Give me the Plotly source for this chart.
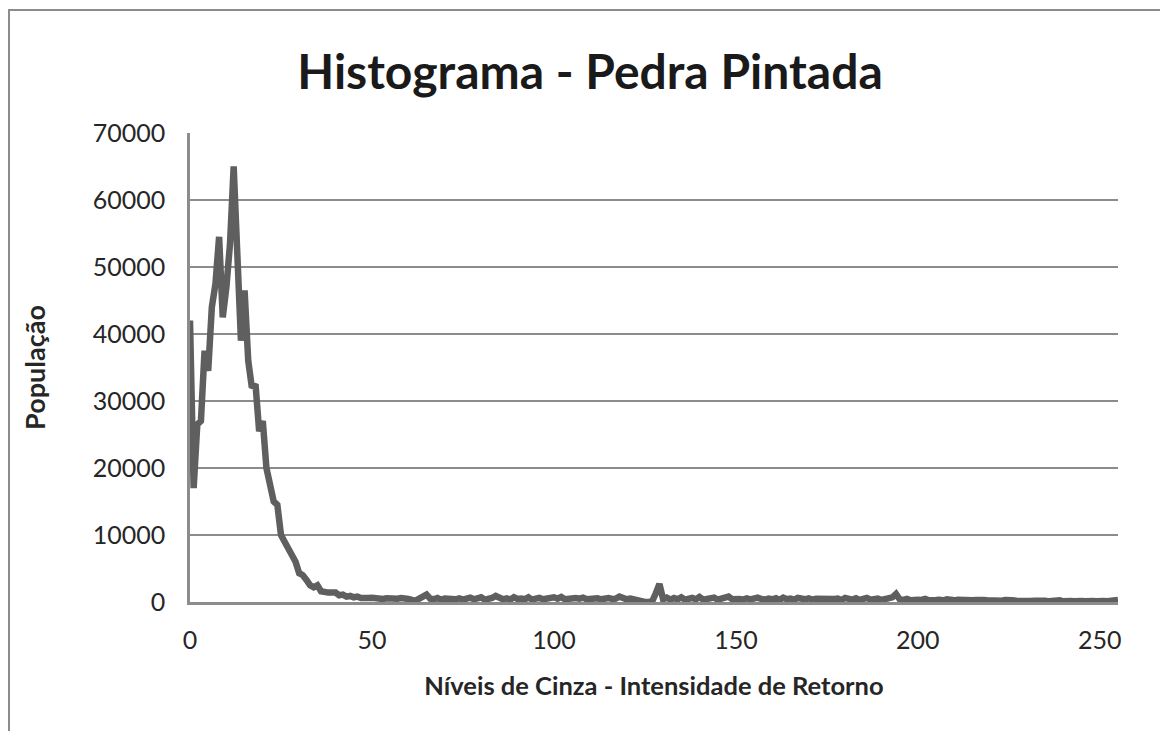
import plotly.graph_objects as go

levels = list(range(256))
population = [
    42000, 17000, 26500, 27000, 37500, 34500, 44000, 47500, 54500, 42500,
    47000, 53500, 65000, 50000, 39000, 46500, 36000, 32000, 32500, 25500,
    27000, 20000, 17500, 15000, 14500, 10000, 9000, 8000, 6500, 6000,
    4300, 4000, 3300, 2500, 2200, 2500, 1600, 1400, 1400, 1400,
    1400, 1000, 1100, 800, 900, 700, 800, 600, 700, 600,
    650, 500, 600, 450, 550, 500, 400, 500, 600, 400,
    450, 300, 200, 500, 900, 1100, 500, 400, 600, 350,
    500, 450, 600, 400, 550, 350, 500, 650, 400, 500,
    700, 350, 450, 600, 900, 500, 400, 550, 350, 700,
    450, 500, 400, 700, 350, 500, 600, 400, 550, 450,
    700, 500, 750, 400, 550, 450, 600, 500, 650, 400,
    500, 450, 550, 400, 500, 600, 450, 500, 800, 500,
    400, 500, 350, 200, 50, 0, 0, 100, 1300, 2700,
    400, 650, 350, 600, 400, 700, 350, 500, 600, 400,
    750, 350, 500, 400, 650, 350, 450, 500, 800, 400,
    500, 450, 350, 550, 400, 500, 650, 450, 350, 500,
    400, 550, 300, 650, 400, 500, 350, 600, 450, 400,
    550, 350, 500, 450, 400, 550, 350, 450, 500, 300,
    600, 400, 350, 550, 300, 450, 600, 350, 400, 500,
    300, 450, 500, 700, 1200, 400, 300, 450, 250, 400,
    350, 300, 450, 250, 400, 300, 350, 250, 400, 300,
    250, 350, 300, 200, 350, 250, 300, 200, 300, 250,
    200, 300, 250, 200, 300, 150, 250, 200, 150, 250,
    200, 150, 200, 250, 150, 200, 100, 200, 150, 250,
    100, 200, 150, 100, 200, 150, 100, 200, 150, 100,
    200, 150, 100, 150, 200, 300,
]

title_text = "Histograma - Pedra Pintada"
x_title = "Níveis de Cinza - Intensidade de Retorno"
y_title = "População"
x_ticks = [0, 50, 100, 150, 200, 250]
y_ticks = [0, 10000, 20000, 30000, 40000, 50000, 60000, 70000]

FONT = "Lato"
GRID = "#8c8c8c"
OFF = 8  # page body margin

W, H = 1168, 731
# target plot area in window pixels: x 190..1118, y 133..602
L = 190 - OFF
T = 133 - OFF
R = W - (1118 - OFF)
B = H - (602 - OFF)
pw, ph = W - L - R, H - T - B

def px_x(p):
    return (p - OFF - L) / pw

def px_y(p):
    return (H - B - (p - OFF)) / ph

fig = go.Figure()
fig.add_trace(go.Scatter(
    x=levels, y=population, mode="lines",
    line=dict(color="#5f5f5f", width=6.5),
    showlegend=False, hoverinfo="x+y",
))

fig.update_layout(
    width=W, height=H,
    margin=dict(l=L, r=R, t=T, b=B),
    paper_bgcolor="white", plot_bgcolor="white",
    font=dict(family=FONT, color="#262626"),
    title=dict(text="<b>" + title_text + "</b>", x=(590 - OFF) / W, xanchor="center",
               y=1 - (72 - OFF) / H, yanchor="middle",
               font=dict(size=48, family=FONT, color="#1a1a1a")),
    shapes=[dict(type="rect", xref="paper", yref="paper",
                 x0=px_x(9), x1=px_x(1250), y0=px_y(800), y1=px_y(10),
                 line=dict(color="#8c8c8c", width=2), layer="below")],
)

fig.update_xaxes(
    range=[0, 255], tickvals=x_ticks, showgrid=False,
    showline=True, linecolor=GRID, linewidth=2.5,
    ticks="", tickfont=dict(size=25, family=FONT, color="#262626"),
    ticklabelstandoff=14, zeroline=False, automargin=False,
    title=dict(text="<b>" + x_title + "</b>", standoff=25,
               font=dict(size=25.5, family=FONT, color="#262626")),
)
fig.update_yaxes(
    range=[0, 70000], tickvals=y_ticks, tickformat="d",
    showgrid=True, gridcolor=GRID, gridwidth=2,
    showline=True, linecolor=GRID, linewidth=2.5,
    ticks="", tickfont=dict(size=25, family=FONT, color="#262626"),
    ticklabelstandoff=17, zeroline=False, automargin=False,
    title=dict(text="<b>" + y_title + "</b>", standoff=40,
               font=dict(size=27, family=FONT, color="#262626")),
)

fig.write_html("out.html")
